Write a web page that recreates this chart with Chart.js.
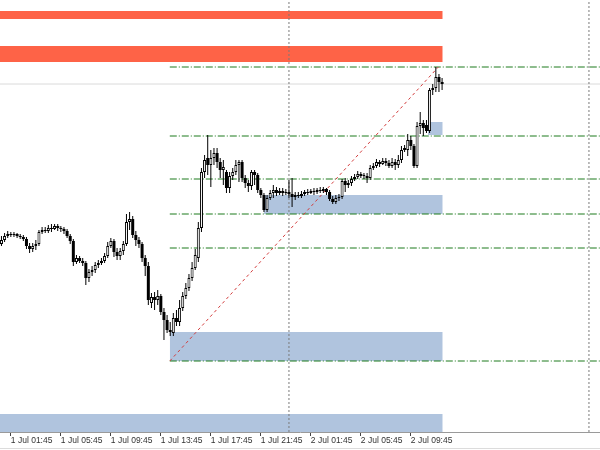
<!DOCTYPE html>
<html>
<head>
<meta charset="utf-8">
<script src="https://cdn.jsdelivr.net/npm/chart.js@4.4.1/dist/chart.umd.min.js"></script>
<style>
  html, body { margin: 0; padding: 0; background: #fff; }
  #wrap { width: 600px; height: 448px; border-bottom: 1px solid #dcdcdc; }
</style>
</head>
<body>
<div id="wrap"><canvas id="chart"></canvas></div>
<script>
// M15 bars, time in minutes from 1 Jul 00:00
const FIRST_BAR = 60;
const BAR_MIN = 15;

const opens = [
  1.0888, 1.0892, 1.0896, 1.0898, 1.0897, 1.0898, 1.0896, 1.0895, 1.0893, 1.0886,
  1.0883, 1.0886, 1.0888, 1.0900, 1.0902, 1.0901, 1.0904, 1.0903, 1.0906, 1.0904,
  1.0903, 1.0901, 1.0896, 1.0891, 1.0870, 1.0874, 1.0871, 1.0869, 1.0854, 1.0860,
  1.0862, 1.0867, 1.0869, 1.0871, 1.0876, 1.0886, 1.0891, 1.0880, 1.0876, 1.0881,
  1.0888, 1.0910, 1.0913, 1.0897, 1.0892, 1.0888, 1.0874, 1.0866, 1.0829, 1.0835,
  1.0832, 1.0836, 1.0820, 1.0812, 1.0802, 1.0799, 1.0814, 1.0810, 1.0824, 1.0836,
  1.0844, 1.0854, 1.0864, 1.0874, 1.0904, 1.0960, 1.0974, 1.0967, 1.0974, 1.0979,
  1.0970, 1.0962, 1.0960, 1.0944, 1.0956, 1.0960, 1.0967, 1.0970, 1.0954, 1.0949,
  1.0946, 1.0960, 1.0957, 1.0942, 1.0937, 1.0922, 1.0934, 1.0939, 1.0942, 1.0939,
  1.0941, 1.0939, 1.0940, 1.0938, 1.0935, 1.0937, 1.0936, 1.0938, 1.0940, 1.0939,
  1.0941, 1.0940, 1.0942, 1.0941, 1.0943, 1.0940, 1.0933, 1.0930, 1.0934, 1.0935,
  1.0951, 1.0947, 1.0949, 1.0953, 1.0955, 1.0958, 1.0956, 1.0956, 1.0954, 1.0964,
  1.0966, 1.0970, 1.0968, 1.0971, 1.0969, 1.0966, 1.0970, 1.0967, 1.0972, 1.0982,
  1.0982, 1.0992, 1.0986, 1.0966, 1.1006, 1.1009, 1.1007, 1.1001, 1.1042, 1.1044,
  1.1055, 1.1050
];
const highs = [
  1.0896, 1.0899, 1.0901, 1.0900, 1.0900, 1.0899, 1.0898, 1.0897, 1.0895, 1.0889,
  1.0889, 1.0892, 1.0902, 1.0905, 1.0905, 1.0907, 1.0908, 1.0908, 1.0908, 1.0906,
  1.0905, 1.0903, 1.0898, 1.0893, 1.0877, 1.0876, 1.0874, 1.0871, 1.0863, 1.0866,
  1.0870, 1.0872, 1.0874, 1.0879, 1.0890, 1.0894, 1.0893, 1.0884, 1.0884, 1.0891,
  1.0918, 1.0920, 1.0916, 1.0901, 1.0895, 1.0890, 1.0877, 1.0870, 1.0839, 1.0840,
  1.0842, 1.0838, 1.0824, 1.0817, 1.0810, 1.0819, 1.0822, 1.0832, 1.0840, 1.0849,
  1.0858, 1.0870, 1.0883, 1.0910, 1.0964, 1.0977, 1.0997, 1.0982, 1.0984, 1.0984,
  1.0974, 1.0972, 1.0962, 1.0960, 1.0964, 1.0972, 1.0972, 1.0972, 1.0957, 1.0952,
  1.0962, 1.0962, 1.0959, 1.0944, 1.0939, 1.0937, 1.0942, 1.0947, 1.0945, 1.0944,
  1.0944, 1.0943, 1.0952, 1.0954, 1.0940, 1.0940, 1.0941, 1.0942, 1.0943, 1.0943,
  1.0944, 1.0944, 1.0945, 1.0945, 1.0944, 1.0942, 1.0936, 1.0937, 1.0938, 1.0953,
  1.0954, 1.0952, 1.0956, 1.0958, 1.0961, 1.0960, 1.0959, 1.0959, 1.0967, 1.0969,
  1.0973, 1.0972, 1.0974, 1.0974, 1.0972, 1.0974, 1.0973, 1.0977, 1.0986, 1.0987,
  1.0998, 1.0996, 1.0988, 1.1010, 1.1020, 1.1012, 1.1012, 1.1044, 1.1048, 1.1065,
  1.1058, 1.1054
];
const lows = [
  1.0886, 1.0890, 1.0894, 1.0895, 1.0895, 1.0894, 1.0893, 1.0891, 1.0883, 1.0879,
  1.0880, 1.0882, 1.0886, 1.0898, 1.0899, 1.0899, 1.0900, 1.0902, 1.0901, 1.0900,
  1.0898, 1.0894, 1.0888, 1.0866, 1.0868, 1.0869, 1.0866, 1.0847, 1.0850, 1.0856,
  1.0859, 1.0864, 1.0867, 1.0869, 1.0874, 1.0884, 1.0875, 1.0872, 1.0872, 1.0877,
  1.0886, 1.0902, 1.0894, 1.0886, 1.0884, 1.0870, 1.0856, 1.0827, 1.0824, 1.0822,
  1.0827, 1.0817, 1.0792, 1.0799, 1.0796, 1.0796, 1.0806, 1.0806, 1.0821, 1.0833,
  1.0841, 1.0851, 1.0862, 1.0870, 1.0900, 1.0954, 1.0957, 1.0945, 1.0967, 1.0964,
  1.0954, 1.0947, 1.0939, 1.0939, 1.0952, 1.0957, 1.0950, 1.0950, 1.0944, 1.0940,
  1.0942, 1.0947, 1.0939, 1.0934, 1.0920, 1.0920, 1.0932, 1.0934, 1.0936, 1.0937,
  1.0936, 1.0937, 1.0934, 1.0925, 1.0932, 1.0934, 1.0934, 1.0936, 1.0937, 1.0938,
  1.0937, 1.0938, 1.0939, 1.0939, 1.0937, 1.0931, 1.0928, 1.0928, 1.0931, 1.0933,
  1.0940, 1.0944, 1.0946, 1.0951, 1.0953, 1.0954, 1.0953, 1.0949, 1.0952, 1.0962,
  1.0964, 1.0965, 1.0967, 1.0966, 1.0964, 1.0964, 1.0962, 1.0964, 1.0969, 1.0980,
  1.0976, 1.0982, 1.0964, 1.0964, 1.0998, 1.0996, 1.0999, 1.0999, 1.1037, 1.1040,
  1.1040, 1.1042
];
const closes = [
  1.0892, 1.0896, 1.0898, 1.0897, 1.0898, 1.0896, 1.0895, 1.0893, 1.0886, 1.0883,
  1.0886, 1.0888, 1.0900, 1.0902, 1.0901, 1.0904, 1.0903, 1.0906, 1.0904, 1.0903,
  1.0901, 1.0896, 1.0891, 1.0870, 1.0874, 1.0871, 1.0869, 1.0854, 1.0860, 1.0862,
  1.0867, 1.0869, 1.0871, 1.0876, 1.0886, 1.0891, 1.0880, 1.0876, 1.0881, 1.0888,
  1.0910, 1.0913, 1.0897, 1.0892, 1.0888, 1.0874, 1.0866, 1.0832, 1.0835, 1.0832,
  1.0836, 1.0820, 1.0812, 1.0802, 1.0800, 1.0814, 1.0810, 1.0824, 1.0836, 1.0844,
  1.0854, 1.0864, 1.0877, 1.0904, 1.0960, 1.0972, 1.0967, 1.0974, 1.0979, 1.0970,
  1.0962, 1.0965, 1.0944, 1.0956, 1.0960, 1.0967, 1.0970, 1.0954, 1.0949, 1.0946,
  1.0960, 1.0957, 1.0942, 1.0937, 1.0922, 1.0934, 1.0939, 1.0942, 1.0939, 1.0941,
  1.0939, 1.0940, 1.0938, 1.0935, 1.0937, 1.0936, 1.0938, 1.0940, 1.0939, 1.0941,
  1.0940, 1.0942, 1.0941, 1.0943, 1.0940, 1.0933, 1.0930, 1.0934, 1.0935, 1.0951,
  1.0947, 1.0949, 1.0953, 1.0955, 1.0958, 1.0956, 1.0957, 1.0954, 1.0964, 1.0966,
  1.0970, 1.0968, 1.0971, 1.0969, 1.0966, 1.0970, 1.0967, 1.0972, 1.0982, 1.0984,
  1.0992, 1.0986, 1.0966, 1.1006, 1.1009, 1.1004, 1.1001, 1.1042, 1.1044, 1.1055,
  1.1050, 1.1048
];

// zones: [fromTime, toTime, top, bottom]
const supplyZones = [
  [0, 2178, 1.1121, 1.1113],
  [0, 2178, 1.1086, 1.1070]
];
const demandZones = [
  [2107, 2178, 1.1010, 1.0997],
  [1319, 2178, 1.0937, 1.0918],
  [868, 2178, 1.0800, 1.0771],
  [0, 2178, 1.0718, 1.0700]
];
// levels drawn from the swing low to the right
const levelStart = 868;
const levels = [1.1065, 1.0996, 1.0953, 1.0918, 1.0884, 1.0771];
const trendLine = [[868, 1.0771], [2157, 1.1065]];
const bidPrice = 1.1048;
const daySeparators = [1440, 2880];
const tickTimes = [105, 345, 585, 825, 1065, 1305, 1545, 1785, 2025];

const X_MIN = 53, X_MAX = 2933;
const Y_MIN = 1.0700, Y_MAX = 1.1132;

const times = opens.map((_, i) => FIRST_BAR + i * BAR_MIN);
const wicks = times.map((t, i) => ({ x: t, y: [lows[i], highs[i]] }));
const bullBodies = [], bearBodies = [];
times.forEach((t, i) => {
    const body = { x: t, y: [opens[i], closes[i]] };
    if (closes[i] >= opens[i]) bullBodies.push(body); else bearBodies.push(body);
});

function pad(n) { return String(n).padStart(2, '0'); }
function formatTime(t) {
    const day = Math.floor(t / 1440) + 1;
    const m = t % 1440;
    return day + ' Jul ' + pad(Math.floor(m / 60)) + ':' + pad(m % 60);
}

function zoneDataset(z, color) {
    return {
        type: 'line',
        data: [{ x: z[0], y: z[2] }, { x: z[1], y: z[2] }],
        borderColor: 'rgba(0,0,0,0)',
        borderWidth: 0,
        backgroundColor: color,
        fill: { value: z[3] },
        pointRadius: 0,
        order: 10
    };
}

function lineDataset(points, color, dash, order) {
    return {
        type: 'line',
        data: points.map(p => ({ x: p[0], y: p[1] })),
        borderColor: color,
        borderWidth: 1,
        borderDash: dash,
        fill: false,
        pointRadius: 0,
        tension: 0,
        order: order
    };
}

const datasets = [];
supplyZones.forEach(z => datasets.push(zoneDataset(z, '#fe6347')));
demandZones.forEach(z => datasets.push(zoneDataset(z, '#b0c4de')));
datasets.push(lineDataset([[0, bidPrice], [3000, bidPrice]], '#dadada', [], 9));
daySeparators.forEach(t => datasets.push(lineDataset([[t, Y_MIN], [t, Y_MAX]], '#7a7a7a', [2, 2], 8)));
levels.forEach(v => datasets.push(lineDataset([[levelStart, v], [3000, v]], '#1c7a1c', [7, 2, 1, 2], 7)));
datasets.push(lineDataset(trendLine, '#d23c3c', [3, 3], 6));

datasets.push({
    type: 'bar', data: wicks, backgroundColor: '#000', borderWidth: 0,
    maxBarThickness: 1, barPercentage: 1, categoryPercentage: 1,
    grouped: false, inflateAmount: 0, order: 3
});
datasets.push({
    type: 'bar', data: bearBodies, backgroundColor: '#000', borderWidth: 0,
    maxBarThickness: 3, barPercentage: 1, categoryPercentage: 1, minBarLength: 1,
    grouped: false, inflateAmount: 0, order: 2
});
datasets.push({
    type: 'bar', data: bullBodies, backgroundColor: '#fff', borderColor: '#000',
    borderWidth: 1, borderSkipped: false, maxBarThickness: 3, barPercentage: 1,
    categoryPercentage: 1, minBarLength: 1, grouped: false, inflateAmount: 0, order: 1
});

new Chart(document.getElementById('chart'), {
    type: 'bar',
    data: { datasets: datasets },
    options: {
        responsive: true,
        maintainAspectRatio: false,
        animation: false,
        layout: { padding: 0 },
        plugins: { legend: { display: false }, tooltip: { enabled: false } },
        scales: {
            x: {
                type: 'linear',
                min: X_MIN,
                max: X_MAX,
                offset: false,
                afterBuildTicks: scale => { scale.ticks = tickTimes.map(v => ({ value: v })); },
                afterFit: scale => { scale.height = 16; },
                grid: { display: true, drawOnChartArea: false, drawTicks: true, tickLength: 4, color: '#444', offset: false },
                border: { display: true, color: '#9a9a9a' },
                ticks: {
                    align: 'start',
                    autoSkip: false,
                    maxRotation: 0,
                    minRotation: 0,
                    padding: 0,
                    color: '#333',
                    font: { family: "'Liberation Sans Narrow', 'Liberation Sans', sans-serif", size: 8.5 },
                    callback: v => formatTime(v)
                }
            },
            y: {
                type: 'linear',
                min: Y_MIN,
                max: Y_MAX,
                display: false
            }
        }
    }
});
</script>
</body>
</html>
